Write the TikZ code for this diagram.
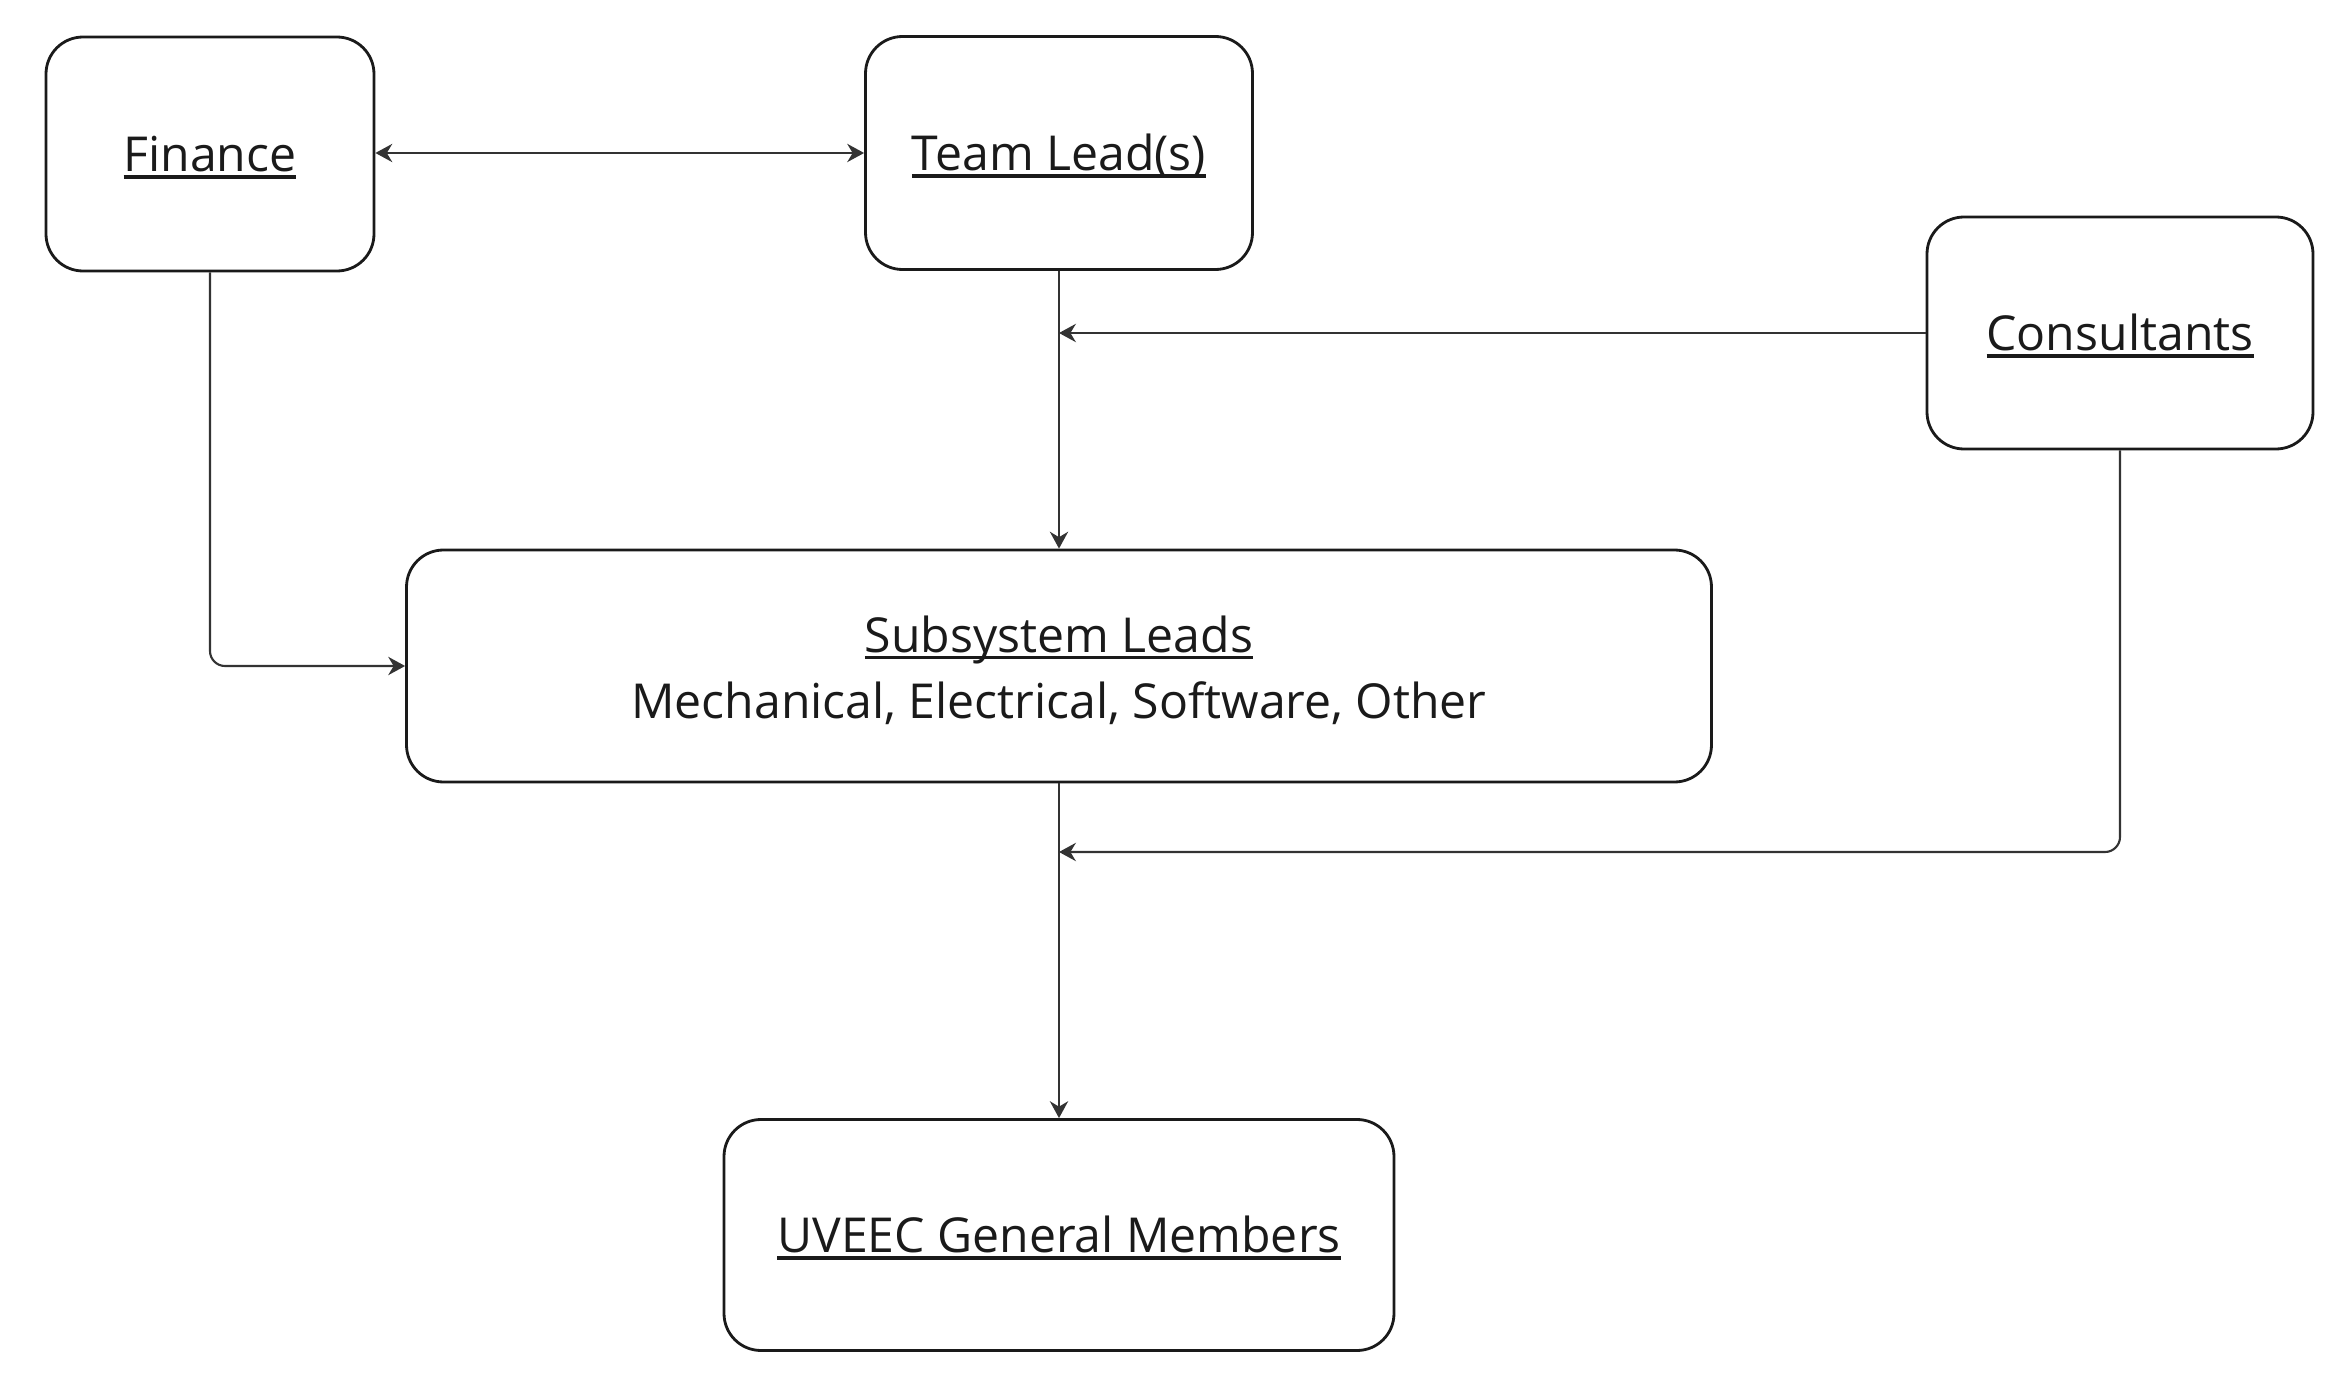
\documentclass[tikz,border=0pt]{standalone}
\usepackage{fontspec}
\setmainfont{Open Sans}
\usetikzlibrary{arrows.meta}
\definecolor{inkline}{HTML}{333333}
\definecolor{inktext}{HTML}{1A1A1A}
% underlined label, thicker rule than \underline
\newcommand{\ulbl}[1]{\setbox0\hbox{#1}\rlap{\rule[-2pt]{\wd0}{1pt}}\box0}

\begin{document}
\begin{tikzpicture}[x=0.1mm,y=-0.1mm,>={Stealth[length=4.8pt,width=5.2pt]}]
 \tikzstyle{block} = [draw=inktext,line width=0.8pt,rounded corners=3.7mm,text=inktext,font=\fontsize{13.7}{18.8}\selectfont,align=center,inner sep=0pt]
 \tikzstyle{oneline} = [execute at begin node={\rule[-3.5pt]{0pt}{17.2pt}}]
 \tikzstyle{link} = [inkline,line width=0.6pt,->]
 \useasboundingbox (0,0) rectangle (2352,1396);

% Boxes
 \node[block,oneline,minimum width=32.8mm,minimum height=23.4mm] (fin) at (210,154) {\ulbl{Finance}};
 \node[block,oneline,minimum width=38.7mm,minimum height=23.3mm] (lead) at (1059,153) {\ulbl{Team Lead(s)}};
 \node[block,oneline,minimum width=38.6mm,minimum height=23.2mm] (cons) at (2120,333) {\ulbl{Consultants}};
 \node[block,minimum width=130.5mm,minimum height=23.2mm] (sub) at (1059,666) {\rule{0pt}{12.8pt}\ulbl{Subsystem Leads}\\Mechanical, Electrical, Software, Other};
 \node[block,oneline,minimum width=67mm,minimum height=23.1mm] (gen) at (1059,1235) {\ulbl{UVEEC General Members}};

% Junctions on the vertical lines
 \coordinate (j1) at (1059,333);
 \coordinate (j2) at (1059,852);

% Connectors
 \draw[link,<->] (fin.east |- 0,153) -- (lead.west |- 0,153);
 \draw[link] (lead) -- (sub);
 \draw[link] (cons.west) -- (j1);
 \draw[link,rounded corners=1.5mm] (fin.south) -- (fin.south |- sub.west) -- (sub.west);
 \draw[link] (sub) -- (gen);
 \draw[link,rounded corners=1.5mm] (cons.south) -- (cons.south |- j2) -- (j2);
\end{tikzpicture}
\end{document}
